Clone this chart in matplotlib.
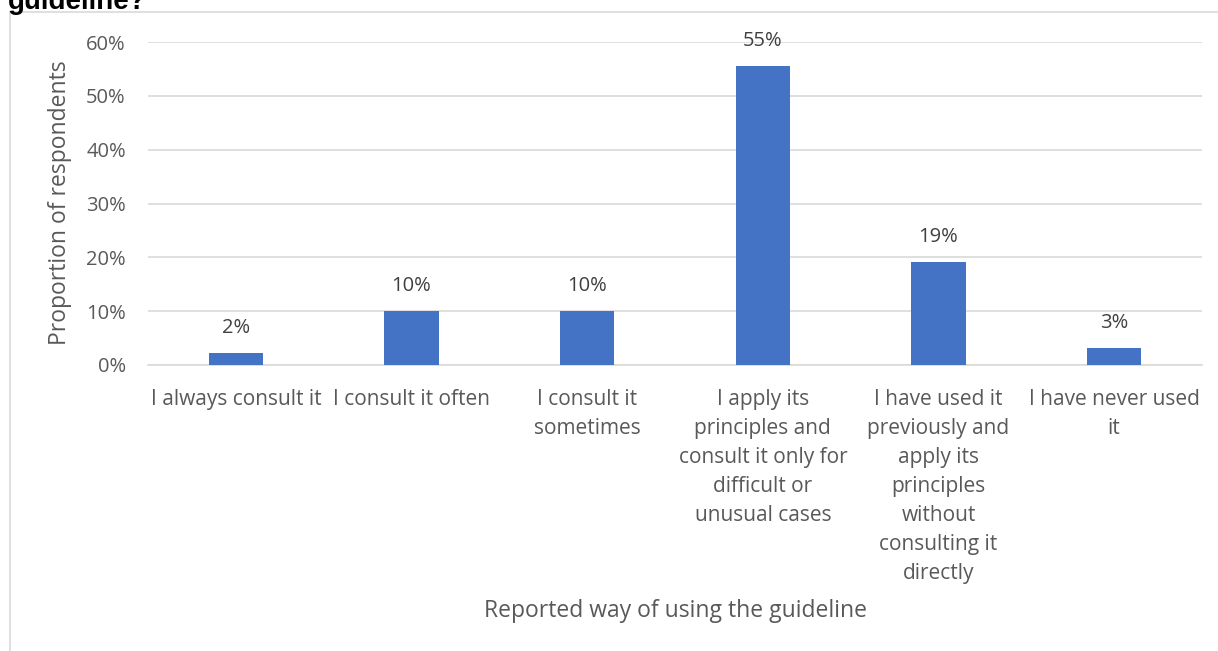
import numpy as np
import matplotlib.pyplot as plt
from matplotlib.patches import Rectangle
from matplotlib.ticker import PercentFormatter

plt.rcParams['font.family'] = ['Open Sans', 'DejaVu Sans']

categories = ['I always consult it', 'I consult it often', 'I consult it\nsometimes',
              'I apply its\nprinciples and\nconsult it only for\ndifficult or\nunusual cases',
              'I have used it\npreviously and\napply its\nprinciples\nwithout\nconsulting it\ndirectly',
              'I have never used\nit']
values = [2.3, 10.0, 10.0, 55.5, 19.2, 3.1]
labels = ['2%', '10%', '10%', '55%', '19%', '3%']

W, H = 1218, 651
fig = plt.figure(figsize=(W / 100, H / 100), dpi=100)
ax = fig.add_axes([148 / W, 1 - 365 / H, (1202 - 148) / W, (365 - 42) / H])

grey = '#595959'
x = np.arange(len(categories))
ax.bar(x, values, width=0.31, color='#4472C4', zorder=3)
for xi, v, lab in zip(x, values, labels):
    ax.annotate(lab, (xi, v), xytext=(0, 18), textcoords='offset points',
                ha='center', va='center', fontsize=14.5, color='#404040')

ax.set_xlim(-0.5, len(categories) - 0.5)
ax.set_ylim(0, 60)
ax.set_yticks(np.arange(0, 61, 10))
ax.yaxis.set_major_formatter(PercentFormatter(decimals=0))
ax.grid(axis='y', color='#d9d9d9', linewidth=1.2, zorder=0)
for s in ['top', 'right', 'left']:
    ax.spines[s].set_visible(False)
ax.spines['bottom'].set_color('#d9d9d9')
ax.spines['bottom'].set_linewidth(1.2)
ax.tick_params(axis='x', length=0, colors=grey, labelsize=15, pad=17)
ax.tick_params(axis='y', length=0, colors=grey, labelsize=14.5, pad=16)
ax.set_xticks(x)
ax.set_xticklabels(categories, linespacing=1.5)

fig.text(60 / W, 1 - 203 / H, 'Proportion of respondents', rotation=90, ha='center', va='center',
         fontsize=16.5, color=grey)
fig.text(675 / W, 1 - 611 / H, 'Reported way of using the guideline', ha='center', va='center',
         fontsize=16.5, color=grey)

# chart border (cut off on right and bottom)
fig.patches.append(Rectangle((10 / W, -0.1), 1.2, 1 - 12 / H + 0.1, transform=fig.transFigure,
                             fill=False, edgecolor='#d9d9d9', linewidth=1.2))
fig.text(8 / W, 1 - 9 / H, 'guideline?', ha='left', va='baseline', fontsize=20,
         fontweight='bold', family=['Liberation Sans', 'DejaVu Sans'], color='black')

fig.savefig('out.png', dpi=100)
